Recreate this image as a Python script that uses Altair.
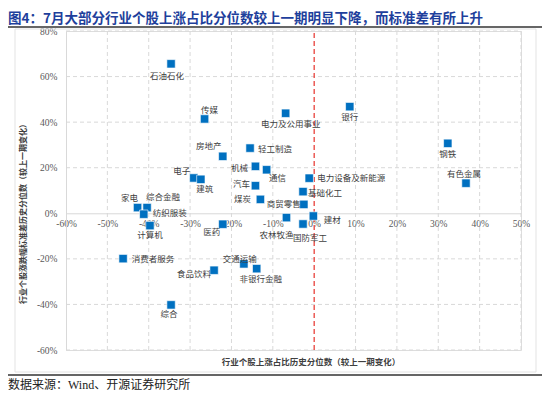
import altair as alt
import pandas as pd

# ---- data ----
industries = ["石油石化", "传媒", "房地产", "电子", "建筑", "轻工制造", "机械", "通信", "汽车", "煤炭",
              "商贸零售", "电力及公用事业", "银行", "钢铁", "有色金属", "电力设备及新能源", "基础化工", "建材",
              "国防军工", "农林牧渔", "家电", "综合金融", "纺织服装", "计算机", "医药", "消费者服务",
              "食品饮料", "交通运输", "非银行金融", "综合"]
x_change = [-34.6, -26.5, -22.1, -29.1, -27.4, -15.5, -14.2, -11.5, -14.2, -13.0,
            -2.5, -6.9, 8.6, 32.3, 36.7, -1.2, -2.7, -0.2,
            -2.7, -6.7, -42.7, -40.4, -41.2, -39.7, -22.1, -46.2,
            -24.2, -17.0, -13.9, -34.6]
y_change = [65.6, 41.4, 25.0, 15.5, 14.9, 28.6, 20.6, 19.1, 12.1, 6.1,
            3.9, 43.9, 46.8, 30.7, 13.2, 15.4, 9.5, -1.2,
            -4.7, -1.9, 2.5, 2.5, -0.4, -5.4, -4.8, -19.9,
            -25.0, -22.2, -24.3, -40.2]

x_ticks = [-60, -50, -40, -30, -20, -10, 0, 10, 20, 30, 40, 50]
y_ticks = [-60, -40, -20, 0, 20, 40, 60, 80]
grid_x = [-50, -40, -30, -20, -10, 10, 20, 30, 40, 50]
grid_y = [-60, -40, -20, 20, 40, 60, 80]

title_text = "图4：7月大部分行业个股上涨占比分位数较上一期明显下降，而标准差有所上升"
x_title = "行业个股上涨占比历史分位数（较上一期变化）"
y_title = "行业个股涨跌幅标准差历史分位数（较上一期变化）"
source_text = "数据来源：Wind、开源证券研究所"

# label placement (pixel offsets of each label's centre from its marker)
label_dx = [-4, 5, -14, -12, 4, 25, -16, 11, -14, -18,
            -20, 5, 0, 0, -2, 42, 22, 19,
            7, -10, -8, 16, 26, 0, -11, 30,
            -20, -4, 4, -2]
label_dy = [12, -9, -10, -7, 10, 1, 2, 8, -2, 0,
            0, 11, 10, 11, -9, 0, 1, 4,
            14, 17, -10, -11, -1, 9, 8, 0,
            4, -5, 10, 9]

W, H = 455, 319
XD, YD = [-60, 50], [-60, 80]
zero_px = H * (YD[1] - 0) / (YD[1] - YD[0])
axis_offset = -(H - zero_px)
ux = (XD[1] - XD[0]) / W  # data units per pixel
uy = (YD[1] - YD[0]) / H

df = pd.DataFrame({"name": industries, "x": x_change, "y": y_change})
df["lx"] = df["x"] + pd.Series(label_dx) * ux
df["ly"] = df["y"] - pd.Series(label_dy) * uy

CJK = "Noto Sans CJK SC"
SERIF = "Liberation Serif"

xs = alt.Scale(domain=XD, nice=False, zero=False)
ys = alt.Scale(domain=YD, nice=False, zero=False)

gridcol = "#D9D9D9"

vgrid = alt.Chart(pd.DataFrame({"v": grid_x})).mark_rule(
    color=gridcol, strokeDash=[4, 3], strokeWidth=1
).encode(x=alt.X("v:Q", scale=xs), y=alt.datum(YD[0]), y2=alt.datum(YD[1]))

hgrid = alt.Chart(pd.DataFrame({"v": grid_y})).mark_rule(
    color=gridcol, strokeDash=[4, 3], strokeWidth=1
).encode(y=alt.Y("v:Q", scale=ys), x=alt.datum(XD[0]), x2=alt.datum(XD[1]))

redline = alt.Chart(pd.DataFrame({"v": [0]})).mark_rule(
    color="#E8403A", strokeDash=[5, 3], strokeWidth=1.3
).encode(x=alt.X("v:Q", scale=xs), y=alt.datum(YD[0]), y2=alt.datum(YD[1]))

points = alt.Chart(df).mark_square(size=70, color="#0070C0", opacity=1,
                                   stroke="white", strokeWidth=0.6).encode(
    x=alt.X("x:Q", scale=xs,
            axis=alt.Axis(values=x_ticks, labelExpr="datum.value + '%'", grid=False,
                          ticks=False, domainColor=gridcol, labelFont=SERIF, labelFontSize=9.5,
                          labelColor="#595959", labelPadding=5, offset=axis_offset,
                          title=None, labelFlush=False)),
    y=alt.Y("y:Q", scale=ys,
            axis=alt.Axis(values=y_ticks, labelExpr="datum.value + '%'", grid=False,
                          ticks=False, domainColor=gridcol, labelFont=SERIF, labelFontSize=9.5,
                          labelColor="#595959", labelPadding=9, title=None, labelFlush=False)),
)

labels = alt.Chart(df).mark_text(font=CJK, fontSize=8.5, color="#404040",
                                 align="center", baseline="middle").encode(
    x=alt.X("lx:Q", scale=xs), y=alt.Y("ly:Q", scale=ys),
    text="name:N",
)

one = pd.DataFrame({"a": [0]})

def txt(s, x, y, **kw):
    return alt.Chart(one).mark_text(text=s, **kw).encode(x=alt.value(x), y=alt.value(y))

title_mark = txt(title_text, -58, -12, font=CJK, fontSize=13.5, fontWeight="bold",
                 color="#1E3F9C", align="left", baseline="middle")
xtitle_mark = txt(x_title, 245, 331, font=CJK, fontSize=8.5, fontWeight="bold",
                  color="#404040", align="center", baseline="middle")
ytitle_mark = txt(y_title, -42, 181, font=CJK, fontSize=8, fontWeight="bold",
                  color="#404040", align="center", baseline="middle", angle=270)
source_mark = txt(source_text, -58, 354, font=f"{SERIF}, {CJK}", fontSize=12,
                  color="#222222", align="left", baseline="middle")

top_line = alt.Chart(one).mark_rule(color="#333333", strokeWidth=1.5).encode(
    x=alt.value(-58), x2=alt.value(476), y=alt.value(-4))
bottom_line = alt.Chart(one).mark_rule(color="#333333", strokeWidth=1.5).encode(
    x=alt.value(-58), x2=alt.value(476), y=alt.value(344))
frame = alt.Chart(one).mark_rect(fill=None, stroke="#E3E3E3", strokeWidth=1).encode(
    x=alt.value(-51), x2=alt.value(470), y=alt.value(-2), y2=alt.value(341))

chart = alt.layer(
    frame, vgrid, hgrid, redline, points, labels,
    title_mark, xtitle_mark, ytitle_mark, source_mark, top_line, bottom_line
).properties(
    width=W, height=H,
    autosize=alt.AutoSizeParams(type="none"),
    padding={"left": 58, "top": 23, "right": 21, "bottom": 41},
).configure_view(stroke=None).configure(background="white")

chart.save("out.html", embed_options={"renderer": "svg", "actions": False})
